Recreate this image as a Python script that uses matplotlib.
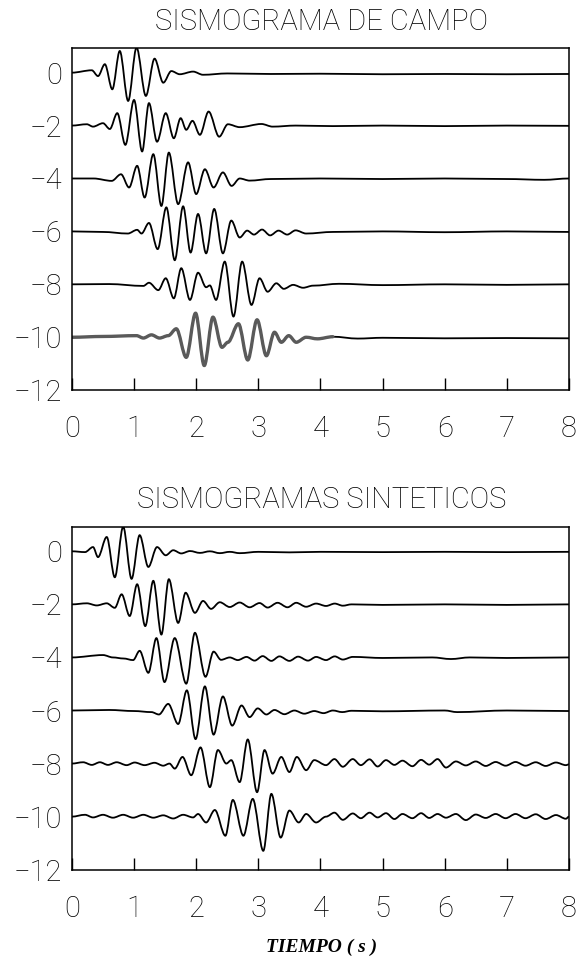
import numpy as np
import matplotlib
matplotlib.use('Agg')
import matplotlib.pyplot as plt
from matplotlib.path import Path
from matplotlib.patches import PathPatch

# trace offsets (y position of each seismogram)
offsets = [0, -2, -4, -6, -8, -10]
x_ticks = [0, 1, 2, 3, 4, 5, 6, 7, 8]
y_ticks = [0, -2, -4, -6, -8, -10, -12]

# --- SISMOGRAMA DE CAMPO (field records): times (s) of the wiggle extremes and
# their amplitudes
campo_0_t = [0.0, 0.32, 0.42, 0.53, 0.65, 0.77, 0.905, 1.04, 1.19, 1.33, 1.47, 1.60, 1.735, 1.95, 2.11, 2.5, 3.2, 4.0, 5.0, 6.0, 7.0, 8.0]
campo_0_a = [0.0, 0.09, -0.13, 0.32, -0.63, 0.82, -1.07, 0.95, -0.88, 0.53, -0.38, 0.06, -0.06, 0.04, -0.08, -0.03, -0.05, -0.04, -0.06, -0.05, -0.06, -0.05]

campo_2_t = [0.0, 0.24, 0.34, 0.50, 0.61, 0.73, 0.86, 1.0, 1.13, 1.24, 1.37, 1.51, 1.64, 1.75, 1.84, 1.94, 2.06, 2.20, 2.37, 2.51, 2.70, 3.05, 3.23, 3.6, 4.2, 5.0, 6.0, 7.0, 8.0]
campo_2_a = [0.0, 0.05, -0.04, 0.09, -0.13, 0.47, -0.73, 0.97, -0.98, 0.85, -0.61, 0.47, -0.48, 0.28, -0.16, 0.18, -0.35, 0.53, -0.42, 0.05, -0.06, 0.06, -0.04, 0.0, -0.02, 0.0, -0.02, 0.0, -0.01]

campo_4_t = [0.0, 0.35, 0.64, 0.79, 0.92, 1.05, 1.17, 1.31, 1.44, 1.56, 1.71, 1.87, 2.0, 2.14, 2.28, 2.43, 2.57, 2.70, 2.86, 3.2, 4.0, 5.0, 6.0, 7.0, 7.6, 8.0]
campo_4_a = [0.0, 0.0, -0.09, 0.16, -0.34, 0.48, -0.72, 0.92, -1.04, 0.98, -0.97, 0.61, -0.59, 0.35, -0.34, 0.23, -0.28, 0.0, -0.08, -0.02, 0.0, -0.02, 0.0, -0.02, -0.05, 0.0]

campo_6_t = [0.0, 0.5, 0.9, 1.05, 1.12, 1.24, 1.38, 1.52, 1.655, 1.79, 1.91, 2.03, 2.16, 2.29, 2.43, 2.565, 2.70, 2.82, 2.93, 3.06, 3.19, 3.325, 3.465, 3.6, 3.77, 4.2, 5.0, 6.0, 7.0, 8.0]
campo_6_a = [0.0, -0.02, -0.08, 0.06, -0.08, 0.32, -0.67, 0.91, -1.09, 0.95, -0.80, 0.66, -0.83, 0.85, -0.83, 0.41, -0.23, 0.03, -0.12, 0.07, -0.15, 0.03, -0.12, 0.04, -0.08, -0.02, 0.0, -0.03, 0.0, -0.02]

campo_8_t = [0.0, 0.6, 1.15, 1.24, 1.39, 1.51, 1.64, 1.76, 1.90, 2.03, 2.16, 2.22, 2.32, 2.46, 2.60, 2.74, 2.89, 3.02, 3.15, 3.29, 3.41, 3.56, 3.72, 3.88, 4.3, 5.0, 6.0, 7.0, 8.0]
campo_8_a = [0.0, 0.01, -0.06, 0.06, -0.22, 0.23, -0.53, 0.61, -0.59, 0.44, -0.11, -0.04, -0.59, 0.86, -1.22, 0.86, -0.78, 0.23, -0.28, 0.04, -0.17, -0.02, -0.13, -0.05, 0.02, -0.03, 0.0, -0.02, 0.0]

campo_10_t = [0.0, 0.5, 1.04, 1.15, 1.28, 1.41, 1.55, 1.68, 1.84, 1.99, 2.13, 2.27, 2.415, 2.51, 2.68, 2.83, 2.98, 3.13, 3.26, 3.37, 3.49, 3.61, 3.77, 3.95, 4.2, 4.6, 5.0, 6.0, 7.0, 8.0]
campo_10_a = [0.0, 0.03, 0.06, -0.03, 0.09, -0.03, 0.06, 0.32, -0.76, 0.91, -1.07, 0.76, -0.38, -0.19, 0.51, -0.86, 0.66, -0.70, 0.19, -0.19, 0.06, -0.19, 0.0, -0.06, 0.02, -0.05, -0.02, -0.04, -0.03, -0.04]
campo_10_gray_end = 4.2  # this record was drawn with a thicker grey pen up to here

# --- SISMOGRAMAS SINTETICOS
sint_0_t = [0.0, 0.21, 0.34, 0.42, 0.56, 0.69, 0.825, 0.96, 1.09, 1.23, 1.37, 1.51, 1.63, 1.76, 1.90, 2.06, 2.22, 2.38, 2.54, 2.70, 3.0, 3.5, 4.0, 5.0, 6.0, 7.0, 8.0]
sint_0_a = [0.0, -0.03, 0.16, -0.22, 0.54, -0.98, 0.93, -1.04, 0.61, -0.59, 0.16, -0.15, 0.04, -0.08, 0.01, -0.06, 0.0, -0.07, -0.02, -0.07, -0.02, -0.04, -0.02, -0.03, -0.02, -0.03, -0.02]

sint_2_t = [0.0, 0.24, 0.40, 0.56, 0.69, 0.80, 0.93, 1.05, 1.18, 1.31, 1.44, 1.56, 1.71, 1.83, 1.98, 2.11, 2.24, 2.38, 2.54, 2.70, 2.86, 3.02, 3.15, 3.31, 3.47, 3.61, 3.77, 3.93, 4.09, 4.23, 4.36, 4.5, 5.0, 6.0, 7.0, 8.0]
sint_2_a = [0.0, 0.04, -0.04, 0.04, -0.13, 0.38, -0.44, 0.76, -0.82, 0.89, -1.14, 0.95, -0.70, 0.44, -0.32, 0.13, -0.17, 0.08, -0.10, 0.07, -0.11, 0.05, -0.12, 0.06, -0.11, 0.06, -0.09, 0.03, -0.06, 0.03, -0.05, 0.0, -0.02, 0.0, -0.02, 0.0]

sint_4_t = [0.0, 0.50, 0.66, 0.83, 0.985, 1.09, 1.23, 1.36, 1.49, 1.655, 1.84, 1.98, 2.15, 2.28, 2.40, 2.54, 2.67, 2.81, 2.94, 3.07, 3.21, 3.34, 3.50, 3.64, 3.80, 3.93, 4.09, 4.23, 4.36, 4.52, 5.0, 5.8, 6.1, 6.4, 7.0, 8.0]
sint_4_a = [0.0, 0.09, 0.0, -0.04, -0.10, 0.25, -0.58, 0.73, -0.93, 0.73, -0.99, 0.93, -0.73, 0.22, -0.09, 0.0, -0.10, 0.02, -0.12, 0.05, -0.13, 0.04, -0.13, 0.03, -0.12, 0.02, -0.10, 0.04, -0.08, 0.02, -0.02, 0.0, -0.06, 0.0, -0.02, 0.0]

sint_6_t = [0.0, 0.6, 1.0, 1.28, 1.40, 1.55, 1.71, 1.85, 1.99, 2.14, 2.28, 2.43, 2.58, 2.73, 2.86, 2.99, 3.13, 3.26, 3.42, 3.58, 3.74, 3.90, 4.05, 4.2, 4.35, 4.5, 5.0, 6.0, 6.2, 7.0, 8.0]
sint_6_a = [0.0, 0.02, -0.02, -0.06, -0.15, 0.25, -0.51, 0.76, -1.08, 0.91, -0.91, 0.53, -0.57, 0.19, -0.25, 0.08, -0.15, 0.02, -0.14, 0.0, -0.12, -0.02, -0.1, 0.0, -0.06, -0.01, -0.03, 0.0, -0.06, 0.0, -0.02]

sint_8_t = [0.0, 0.18, 0.32, 0.45, 0.58, 0.72, 0.88, 1.01, 1.17, 1.33, 1.47, 1.57, 1.655, 1.78, 1.92, 2.07, 2.22, 2.35, 2.485, 2.565, 2.70, 2.83, 2.98, 3.10, 3.23, 3.37, 3.50, 3.62, 3.77, 3.90, 4.09, 4.225, 4.36, 4.52, 4.65, 4.79, 4.92, 5.055, 5.19, 5.32, 5.48, 5.62, 5.75, 5.885, 6.02, 6.18, 6.34, 6.5, 6.66, 6.82, 6.98, 7.14, 7.30, 7.465, 7.625, 7.79, 7.95, 8.0]
sint_8_a = [0.0, 0.05, -0.05, 0.05, -0.05, 0.05, -0.06, 0.04, -0.06, 0.03, -0.08, 0.0, -0.19, 0.25, -0.44, 0.61, -0.89, 0.51, 0.0, 0.13, -0.70, 0.91, -1.08, 0.51, -0.38, 0.25, -0.32, 0.25, -0.25, 0.13, -0.06, 0.17, -0.12, 0.17, -0.06, 0.16, -0.11, 0.13, -0.05, 0.11, -0.10, 0.14, -0.04, 0.17, -0.15, 0.08, -0.07, 0.08, -0.09, 0.06, -0.08, 0.06, -0.08, 0.05, -0.09, 0.04, -0.06, -0.03]

sint_10_t = [0.0, 0.21, 0.34, 0.50, 0.66, 0.825, 0.985, 1.15, 1.31, 1.47, 1.63, 1.79, 1.95, 2.03, 2.16, 2.30, 2.47, 2.59, 2.76, 2.91, 3.08, 3.21, 3.36, 3.50, 3.65, 3.77, 3.93, 4.09, 4.225, 4.36, 4.52, 4.65, 4.79, 4.92, 5.055, 5.19, 5.32, 5.48, 5.62, 5.75, 5.885, 6.02, 6.18, 6.34, 6.5, 6.66, 6.82, 6.98, 7.14, 7.30, 7.465, 7.625, 7.79, 7.95, 8.0]
sint_10_a = [0.0, 0.07, -0.03, 0.07, -0.04, 0.07, -0.04, 0.07, -0.04, 0.05, -0.07, 0.07, -0.03, 0.10, -0.22, 0.25, -0.72, 0.63, -0.72, 0.67, -1.29, 0.86, -0.79, 0.23, -0.22, 0.10, -0.22, 0.0, 0.15, -0.12, 0.12, -0.06, 0.15, -0.03, 0.13, -0.09, 0.10, -0.06, 0.13, -0.05, 0.10, -0.04, 0.10, -0.13, 0.08, -0.05, 0.10, -0.06, 0.10, -0.06, 0.09, -0.09, 0.06, -0.08, 0.0]

campo = [(campo_0_t, campo_0_a), (campo_2_t, campo_2_a), (campo_4_t, campo_4_a),
         (campo_6_t, campo_6_a), (campo_8_t, campo_8_a), (campo_10_t, campo_10_a)]
sint = [(sint_0_t, sint_0_a), (sint_2_t, sint_2_a), (sint_4_t, sint_4_a),
        (sint_6_t, sint_6_a), (sint_8_t, sint_8_a), (sint_10_t, sint_10_a)]

plt.rcParams['font.family'] = ['Roboto', 'DejaVu Sans']
plt.rcParams['font.weight'] = 'light'

fig = plt.figure(figsize=(5.8, 9.61), dpi=100)
ax1 = fig.add_axes([0.124, 0.594, 0.857, 0.356])
ax2 = fig.add_axes([0.124, 0.095, 0.857, 0.357])


def draw_trace(ax, t, y, color='black', lw=1.3):
    # smooth wiggle through the extremes: cubic segments with flat tangents
    verts = [(t[0], y[0])]
    codes = [Path.MOVETO]
    for i in range(len(t) - 1):
        d = (t[i + 1] - t[i]) / 3.0
        verts += [(t[i] + d, y[i]), (t[i + 1] - d, y[i + 1]), (t[i + 1], y[i + 1])]
        codes += [Path.CURVE4] * 3
    patch = PathPatch(Path(verts, codes), fill=False, edgecolor=color, lw=lw,
                      joinstyle='round', capstyle='round', transform=ax.transData)
    ax.add_patch(patch)


def style_axis(ax):
    ax.set_xlim(0, 8)
    ax.set_ylim(-12, 0.93)
    ax.set_xticks(x_ticks)
    ax.set_yticks(y_ticks)
    ax.tick_params(axis='x', direction='in', length=9, width=1.0, pad=18,
                   labelsize=21)
    ax.tick_params(axis='y', length=0, pad=7, labelsize=21)
    for s in ax.spines.values():
        s.set_linewidth(1.1)


for (t, a), off in zip(campo, offsets):
    draw_trace(ax1, np.asarray(t), off + np.asarray(a))
# grey thick pen on the last field record
t10 = np.asarray(campo_10_t)
a10 = np.asarray(campo_10_a)
m = t10 <= campo_10_gray_end
draw_trace(ax1, t10[m], offsets[-1] + a10[m], color='#5a5a5a', lw=2.4)

for (t, a), off in zip(sint, offsets):
    draw_trace(ax2, np.asarray(t), off + np.asarray(a))

style_axis(ax1)
style_axis(ax2)

fig.text(0.555, 0.977, 'SISMOGRAMA DE CAMPO', ha='center', va='center',
         fontsize=21, fontweight='light')
fig.text(0.555, 0.480, 'SISMOGRAMAS SINTETICOS', ha='center', va='center',
         fontsize=21, fontweight='light')
fig.text(0.555, 0.014, 'TIEMPO ( s )', ha='center', va='center',
         fontsize=14, fontweight='bold', fontstyle='italic',
         family='Liberation Serif')

plt.savefig('out.png', dpi=100)
